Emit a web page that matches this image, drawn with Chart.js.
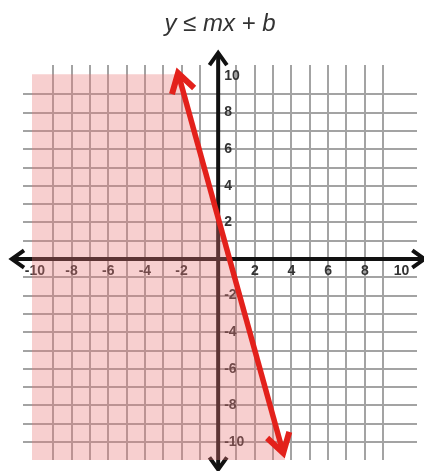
<!DOCTYPE html>
<html>
<head>
<meta charset="utf-8">
<script src="https://cdn.jsdelivr.net/npm/chart.js@4/dist/chart.umd.min.js"></script>
<style>
  html, body { margin: 0; padding: 0; background: #fff; }
  #marco { width: 424px; height: 471px; }
</style>
</head>
<body>
<div id="marco"><canvas id="grafica"></canvas></div>
<script>
// Rótulos de los ejes (el 0 no se rotula)
const marcasX = [-10, -8, -6, -4, -2, 2, 4, 6, 8, 10];
const marcasY = [10, 8, 6, 4, 2, -2, -4, -6, -8, -10];

// Recta frontera y = mx + b, de punta a punta de las flechas
const recta = [{ x: -2.19, y: 10.16 }, { x: 3.55, y: -10.6 }];

// Zona sombreada (y ≤ mx + b): borde de arriba y lado de la recta, hasta el piso
const zona = [{ x: -10.16, y: 10.1 }, { x: -2.2, y: 10.1 }, { x: 3.65, y: -10.98 }];
const pisoZona = -10.98;

// Extremos (puntas de flecha) de los ejes
const ejeX = [-11.26, 11.26];
const ejeY = [-11.5, 11.26];

const FUENTE = '"Liberation Sans", Arial, sans-serif';

// punta de flecha abierta en (tx, ty), apuntando en la dirección (dx, dy)
function chevron(ctx, tx, ty, dx, dy, largo, ang) {
  const c = Math.cos(ang), s = Math.sin(ang);
  ctx.beginPath();
  ctx.moveTo(tx - largo * (dx * c - dy * s), ty - largo * (dx * s + dy * c));
  ctx.lineTo(tx, ty);
  ctx.lineTo(tx - largo * (dx * c + dy * s), ty - largo * (-dx * s + dy * c));
  ctx.stroke();
}

// Ejes con flechas y números, debajo del sombreado
const ejes = {
  id: 'ejes',
  beforeDatasetsDraw(chart) {
    const { ctx, scales: { x, y } } = chart;
    const x0 = x.getPixelForValue(0), y0 = y.getPixelForValue(0);
    const xa = x.getPixelForValue(ejeX[0]), xb = x.getPixelForValue(ejeX[1]);
    const ya = y.getPixelForValue(ejeY[0]), yb = y.getPixelForValue(ejeY[1]);
    ctx.save();
    ctx.strokeStyle = '#111';
    ctx.lineWidth = 4;
    ctx.lineJoin = 'miter';
    ctx.beginPath();
    ctx.moveTo(xa, y0); ctx.lineTo(xb, y0);
    ctx.moveTo(x0, ya); ctx.lineTo(x0, yb);
    ctx.stroke();
    chevron(ctx, xa, y0, -1, 0, 15, 0.62);
    chevron(ctx, xb, y0, 1, 0, 15, 0.62);
    chevron(ctx, x0, ya, 0, 1, 15, 0.62);
    chevron(ctx, x0, yb, 0, -1, 15, 0.62);

    ctx.fillStyle = '#333';
    ctx.font = 'bold 14px ' + FUENTE;
    ctx.textBaseline = 'middle';
    ctx.textAlign = 'center';
    marcasX.forEach(v => ctx.fillText(String(v), x.getPixelForValue(v), y0 + 12));
    ctx.textAlign = 'left';
    marcasY.forEach(v => ctx.fillText(String(v), x0 + 6, y.getPixelForValue(v)));
    ctx.restore();
  }
};

// Flechas rojas en los dos extremos de la recta
const flechas = {
  id: 'flechas',
  afterDatasetsDraw(chart) {
    const ctx = chart.ctx;
    const [a, b] = chart.getDatasetMeta(0).data;
    const len = Math.hypot(b.x - a.x, b.y - a.y);
    const ux = (b.x - a.x) / len, uy = (b.y - a.y) / len;
    ctx.save();
    ctx.strokeStyle = '#e3211b';
    ctx.lineWidth = 6;
    ctx.lineJoin = 'miter';
    chevron(ctx, a.x, a.y, -ux, -uy, 22, 0.55);
    chevron(ctx, b.x, b.y, ux, uy, 22, 0.55);
    ctx.restore();
  }
};

const cuadricula = {
  color: c => Number.isInteger(c.tick.value) ? '#a3a3a3' : 'rgba(0,0,0,0)',
  lineWidth: 2,
  drawTicks: false
};

new Chart(document.getElementById('grafica'), {
  type: 'scatter',
  data: {
    datasets: [
      {
        data: recta, showLine: true, borderColor: '#e3211b', borderWidth: 5.5,
        pointRadius: 0, fill: false, clip: false, order: 0
      },
      {
        data: zona, showLine: true, borderColor: 'rgba(0,0,0,0)', borderWidth: 0,
        pointRadius: 0, backgroundColor: 'rgba(232,118,118,0.35)',
        fill: { value: pisoZona }, clip: false, order: 1
      }
    ]
  },
  options: {
    responsive: true,
    maintainAspectRatio: false,
    animation: false,
    events: [],
    layout: { padding: { left: 23, right: 7, top: 0, bottom: 11 } },
    scales: {
      x: {
        min: -10.65, max: 10.85,
        ticks: { display: false, stepSize: 1 },
        grid: cuadricula, border: { display: false }
      },
      y: {
        min: -10.98, max: 10.6,
        ticks: { display: false, stepSize: 1 },
        grid: cuadricula, border: { display: false }
      }
    },
    plugins: {
      legend: { display: false },
      tooltip: { enabled: false },
      title: {
        display: true,
        text: 'y ≤ mx + b',
        color: '#333',
        font: { family: FUENTE, size: 24, style: 'italic', weight: 'normal' },
        padding: { top: 10, bottom: 26.2 }
      }
    }
  },
  plugins: [ejes, flechas]
});
</script>
</body>
</html>
